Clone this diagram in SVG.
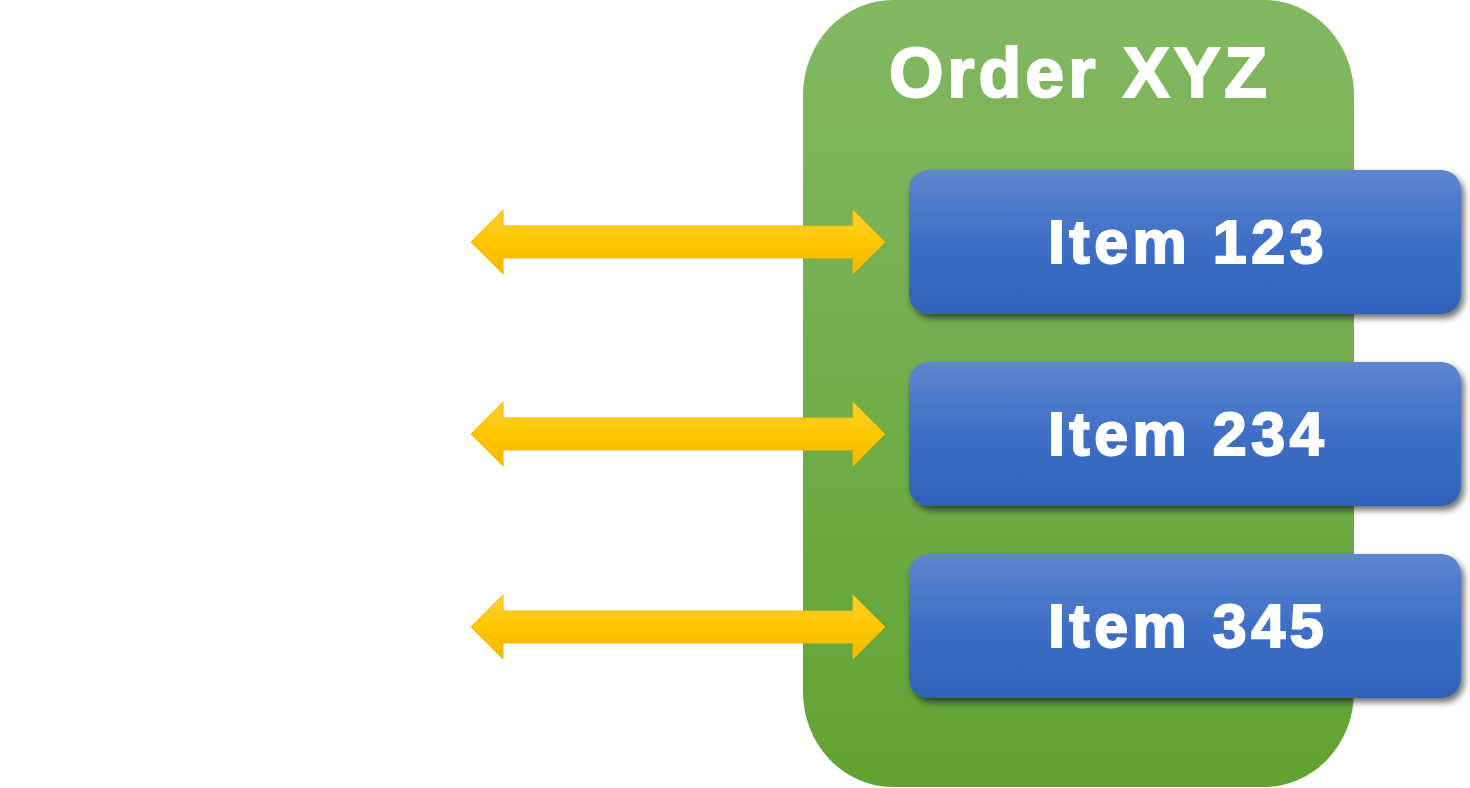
<svg xmlns="http://www.w3.org/2000/svg" width="1470" height="788" viewBox="0 0 1470 788">
<style>
.title{font-family:"Liberation Sans",Arial,sans-serif;font-weight:bold;font-size:70px;fill:#fff;stroke:#fff;stroke-width:2;text-anchor:middle;letter-spacing:4px}
.lbl{font-family:"Liberation Sans",Arial,sans-serif;font-weight:bold;font-size:61px;fill:#fff;stroke:#fff;stroke-width:2;text-anchor:middle;letter-spacing:4.5px}
.item{fill:url(#gb)}
.arrow{fill:url(#gy);stroke:#f2b800;stroke-width:1}
</style>
<defs>
<linearGradient id="gg" x1="0" y1="0" x2="0" y2="1">
<stop offset="0" stop-color="#83b862"/>
<stop offset="1" stop-color="#60a332"/>
</linearGradient>
<linearGradient id="gb" x1="0" y1="0" x2="0" y2="1">
<stop offset="0" stop-color="#5d86cd"/>
<stop offset="0.5" stop-color="#3f6fc6"/>
<stop offset="1" stop-color="#2f62bb"/>
</linearGradient>
<linearGradient id="gy" x1="0" y1="0" x2="0" y2="1">
<stop offset="0" stop-color="#ffd23a"/>
<stop offset="0.5" stop-color="#ffc600"/>
<stop offset="1" stop-color="#f2b800"/>
</linearGradient>
<filter id="sh" x="-10%" y="-20%" width="120%" height="150%">
<feGaussianBlur in="SourceAlpha" stdDeviation="3.5"/>
<feOffset dx="3" dy="4" result="b"/>
<feComponentTransfer><feFuncA type="linear" slope="0.6"/></feComponentTransfer>
<feMerge><feMergeNode/><feMergeNode in="SourceGraphic"/></feMerge>
</filter>
</defs>
<g id="order">
<rect x="803" y="0" width="551" height="787" rx="90" ry="95" fill="url(#gg)"/>
<text class="title" x="1080" y="97">Order XYZ</text>
</g>
<g id="connectors">
<path class="arrow" d="M471,242 L503,210 L503,226 L853,226 L853,210 L885,242 L853,274 L853,258 L503,258 L503,274 Z"/>
<path class="arrow" d="M471,434 L503,402 L503,418 L853,418 L853,402 L885,434 L853,466 L853,450 L503,450 L503,466 Z"/>
<path class="arrow" d="M471,627 L503,595 L503,611 L853,611 L853,595 L885,627 L853,659 L853,643 L503,643 L503,659 Z"/>
</g>
<g id="item123" filter="url(#sh)">
<rect class="item" x="909" y="170" width="552" height="144" rx="20" ry="20"/>
<text class="lbl" x="1188" y="263">Item 123</text>
</g>
<g id="item234" filter="url(#sh)">
<rect class="item" x="909" y="362" width="552" height="144" rx="20" ry="20"/>
<text class="lbl" x="1188" y="455">Item 234</text>
</g>
<g id="item345" filter="url(#sh)">
<rect class="item" x="909" y="554" width="552" height="144" rx="20" ry="20"/>
<text class="lbl" x="1188" y="647">Item 345</text>
</g>
</svg>
